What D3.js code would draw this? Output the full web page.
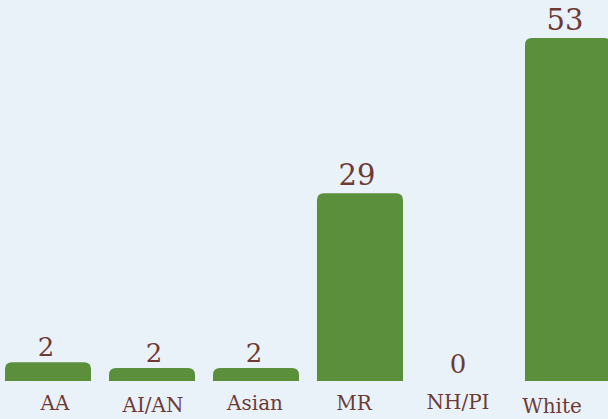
<!DOCTYPE html>
<html>
<head>
<meta charset="utf-8">
<script src="https://cdn.jsdelivr.net/npm/d3@7"></script>
<style>
	html, body { margin: 0; padding: 0; background: #eaf2f9; }
	svg { display: block; }
	text { font-family: "DejaVu Serif", "Liberation Serif", serif; fill: #6e3a35; }
</style>
</head>
<body>
<div id="chart"></div>
<script>
// data
var categories = ['AA', 'AI/AN', 'Asian', 'MR', 'NH/PI', 'White'];
var values = [2.9, 2, 2, 29, 0, 53];
var valueLabels = ['2', '2', '2', '29', '0', '53'];

// small hand-placed nudges of the labels (dx, dy)
var labelNudge = [[7, 0], [1, 2], [-1, 0], [-6, 0], [-6, -1], [-16, 3]];
var valueNudge = [[-2, 0], [2, 0], [-2, 0], [-3, 0], [-6, -2], [-3, 0]];

var width = 608, height = 419;
var base = 381;

var svg = d3.select('#chart').append('svg')
	.attr('width', width)
	.attr('height', height);

var x = d3.scaleBand()
	.domain(categories)
	.range([5, 611])
	.paddingInner(0.173)
	.paddingOuter(0);

var y = d3.scaleLinear()
	.domain([0, 53])
	.range([base, 38]);

// bar with only the top corners rounded
function topRounded(x0, y0, w, h, r) {
	r = Math.min(r, h, w / 2);
	if (h <= 0) { return ''; }
	return 'M' + x0 + ',' + (y0 + h) +
		'V' + (y0 + r) +
		'Q' + x0 + ',' + y0 + ' ' + (x0 + r) + ',' + y0 +
		'H' + (x0 + w - r) +
		'Q' + (x0 + w) + ',' + y0 + ' ' + (x0 + w) + ',' + (y0 + r) +
		'V' + (y0 + h) + 'Z';
}

var rows = categories.map(function(c, i) {
	return {cat: c, value: values[i], label: valueLabels[i], nudge: labelNudge[i], vnudge: valueNudge[i]};
});

svg.append('g').attr('class', 'bars')
	.selectAll('path')
	.data(rows)
	.enter()
	.append('path')
	.attr('fill', '#5b8f3b')
	.attr('d', function(d) {
		return topRounded(x(d.cat), y(d.value), x.bandwidth(), base - y(d.value), 7);
	});

svg.append('g').attr('class', 'values')
	.selectAll('text')
	.data(rows)
	.enter()
	.append('text')
	.attr('x', function(d) { return x(d.cat) + x.bandwidth() / 2 + d.vnudge[0]; })
	.attr('y', function(d) { return y(d.value) - (d.value > 10 ? 8 : 6) + d.vnudge[1]; })
	.attr('text-anchor', 'middle')
	.style('font-size', function(d) { return d.value > 10 ? '29px' : '26px'; })
	.text(function(d) { return d.label; });

svg.append('g').attr('class', 'cats')
	.selectAll('text')
	.data(rows)
	.enter()
	.append('text')
	.attr('x', function(d) { return x(d.cat) + x.bandwidth() / 2 + d.nudge[0]; })
	.attr('y', 410)
	.attr('dy', function(d) { return d.nudge[1]; })
	.attr('text-anchor', 'middle')
	.style('font-size', '20px')
	.text(function(d) { return d.cat; });
</script>
</body>
</html>
